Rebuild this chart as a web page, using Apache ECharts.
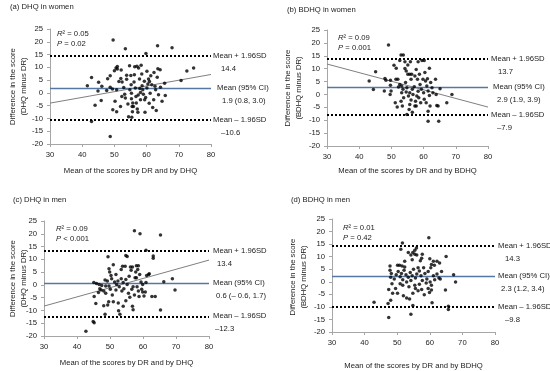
<!DOCTYPE html>
<html><head><meta charset="utf-8">
<script src="https://cdn.jsdelivr.net/npm/echarts@6/dist/echarts.min.js"></script>
<style>html,body{margin:0;padding:0;background:#fff}#c{width:550px;height:371px}</style>
</head><body><div id="c"></div><script>
// ---------- DATA ----------
const panelTitles = ['(a) DHQ in women', '(b) BDHQ in women', '(c) DHQ in men', '(d) BDHQ in men'];
const yNames = ['Difference in the score\n(DHQ minus DR)', 'Difference in the score\n(BDHQ minus DR)', 'Difference in the score\n(DHQ minus DR)', 'Difference in the score\n(BDHQ minus DR)'];
const xNames = ['Mean of the scores by DR and by DHQ', 'Mean of the scores by DR and by BDHQ', 'Mean of the scores by DR and by DHQ', 'Mean of the scores by DR and by BDHQ'];
const r2Text = ['0.05', '0.09', '0.09', '0.01'];
const pText = ['= 0.02', '= 0.001', '< 0.001', '= 0.42'];
// [upper LoA, mean, lower LoA]
const limitsA = [14.4, 1.9, -10.6];
const limitsB = [13.7, 2.9, -7.9];
const limitsC = [13.4, 0.6, -12.3];
const limitsD = [14.3, 2.3, -9.8];
const ciText = ['1.9 (0.8, 3.0)', '2.9 (1.9, 3.9)', '0.6 (– 0.6, 1.7)', '2.3 (1.2, 3.4)'];
const upperText = ['14.4', '13.7', '13.4', '14.3'];
const lowerText = ['–10.6', '–7.9', '–12.3', '–9.8'];
const regA = [[30, -4.0], [80, 7.2]];
const regB = [[30, 11.8], [80, -4.9]];
const regC = [[30, -8.3], [80, 9.7]];
const regD = null;
const xTicks = [30, 40, 50, 60, 70, 80];
const yTicks = [-20, -15, -10, -5, 0, 5, 10, 15, 20, 25];

const aX = [49.6,53.4,63.4,67.9,59.8,41.6,42.9,42.9,44.0,45.1,44.9,45.9,46.1,47.9,47.6,48.7,48.7,48.7,49.4,49.5,50.0,50.5,50.9,50.2,50.7,50.7,51.4,52.0,52.4,52.3,51.9,53.2,53.4,53.8,54.4,54.2,54.7,55.1,55.2,55.3,55.3,55.5,55.6,56.1,56.2,56.3,56.5,56.7,56.8,57.1,57.3,57.5,57.8,57.9,58.1,58.1,58.3,58.5,58.6,58.8,59.0,59.3,59.5,59.7,60.1,60.4,60.6,60.8,61.1,61.3,61.6,61.9,62.3,62.6,62.8,63.0,63.3,63.5,63.7,64.2,64.3,64.8,65.6,65.8,70.7,72.5,74.6,53.8,52.9,50.9,57.0,60.1,55.9,55.4,54.8,52.1,55.7,57.4,59.4,62.2,60.9];
const aY = [20.7,17.3,18.4,17.7,15.4,2.8,6.0,-11.2,-4.8,4.2,0.7,-3.0,2.6,5.5,0.9,6.7,2.2,-17.1,1.5,-6.6,8.7,9.7,10.3,-3.3,-7.4,1.2,4.5,5.6,4.3,-1.4,-5.3,-0.5,-2.0,5.3,-9.3,-4.3,10.6,6.8,3.2,-0.1,-2.3,-5.3,-7.4,4.3,7.1,10.2,1.9,-1.4,-4.0,-6.3,-7.6,9.7,5.4,1.7,0.2,-2.7,10.8,7.4,2.8,1.2,-0.5,4.6,-7.6,-1.8,1.9,3.5,5.4,-4.1,-0.1,6.7,3.2,-5.7,8.0,2.6,1.2,-6.9,6.1,9.4,-0.7,9.1,2.2,-3.3,3.8,-1.0,4.8,8.6,9.7,6.9,2.1,9.3,10.4,8.5,-5.3,-9.5,1.2,9.0,-4.0,-0.8,-2.7,-2.7,4.5];

const bX = [49.1,53.0,53.7,50.8,51.5,45.1,43.1,44.4,47.8,48.0,48.3,49.7,49.7,49.6,49.9,51.4,52.0,51.2,52.6,54.2,54.6,55.1,55.7,55.9,56.3,57.7,58.3,59.5,60.2,61.8,52.6,53.2,53.6,53.8,53.4,53.0,54.4,54.8,55.3,55.7,56.1,56.5,56.7,57.1,57.5,57.7,58.1,58.3,58.5,58.9,59.1,59.3,59.8,60.0,60.2,60.6,61.0,61.2,61.4,61.8,62.0,62.2,62.6,62.9,63.7,63.9,64.1,64.5,65.1,61.4,64.7,61.4,54.8,56.5,67.2,68.8,55.7,54.6,53.2,52.2,54.2,55.1,51.8,55.5,57.3,58.7,60.4,60.8,57.3,56.1,57.9];
const bY = [19.2,15.3,15.3,11.3,10.2,8.8,5.2,1.9,1.3,6.2,5.5,5.5,3.6,0.0,1.3,5.9,5.9,-3.2,13.2,12.7,9.1,7.8,7.8,12.7,7.8,9.7,12.7,13.2,13.2,10.2,3.9,3.3,2.0,-1.3,-4.5,-2.6,4.6,2.6,-0.6,-3.9,5.9,2.0,0.0,3.0,-2.6,-4.5,5.9,1.2,-1.3,3.9,-3.2,2.0,5.9,0.7,-1.9,5.2,3.3,6.1,1.3,-0.4,-4.5,4.6,2.6,0.7,5.9,0.0,-4.3,-4.5,2.2,-10.4,-10.4,-6.5,-7.8,-6.9,-3.2,0.0,0.7,0.9,0.7,2.9,10.1,11.4,-4.9,-5.8,7.2,7.8,8.5,-3.2,-4.5,-2.2,-0.6];

const cX = [57.4,59.1,65.3,60.9,63.1,63.1,49.4,54.8,55.2,49.7,49.9,50.3,50.5,51.0,51.4,51.8,48.5,49.2,49.7,45.1,45.9,46.7,47.5,45.2,45.7,44.9,45.2,42.7,48.1,49.3,48.5,48.1,46.9,48.7,50.7,52.5,53.0,54.0,51.8,52.8,53.4,53.4,53.8,54.6,53.6,54.2,54.8,55.2,55.6,56.0,56.2,56.8,56.8,57.0,57.4,57.6,58.0,58.0,58.6,58.4,58.2,58.6,58.8,59.0,59.4,59.6,59.9,60.3,60.7,60.9,61.1,61.7,61.9,62.7,63.7,65.3,66.3,68.9,69.7,52.6,51.0,49.6,52.0,52.4,54.0,55.8,56.4,57.8,56.6,54.8,57.0,50.1,48.7,47.3,46.5,59.9];
const cY = [21.2,20.0,19.5,13.6,11.3,10.4,11.0,11.5,11.1,6.3,5.0,3.7,2.4,7.9,1.1,4.1,1.9,1.5,-0.4,0.9,0.5,0.2,-0.2,-4.5,-7.3,-14.3,-14.8,-18.1,-8.2,-7.9,-11.5,-2.4,-1.5,-3.3,-4.0,-7.1,-11.5,-8.4,-2.0,-0.7,2.4,6.0,7.3,7.3,-2.4,-1.5,2.1,0.2,-3.3,-4.8,7.0,7.0,-8.4,-9.7,-4.0,2.8,2.8,7.5,7.5,6.0,-0.7,-2.4,-4.5,4.1,1.1,-1.7,-2.8,-4.3,-2.8,0.9,3.7,4.1,4.4,-4.5,-4.5,-9.8,1.2,2.4,-2.0,-10.1,-6.6,-6.6,0.2,1.5,0.9,3.4,5.7,5.0,-1.7,-6.2,-0.7,-1.7,-0.4,-2.0,-3.0,0.2];

const dX = [59.7,51.6,51.1,55.9,55.4,54.8,55.4,56.0,54.2,57.5,57.1,65.0,60.0,61.1,62.2,63.0,60.5,61.4,60.3,47.8,50.1,50.7,51.5,52.3,47.8,48.2,48.0,49.1,49.7,50.3,50.9,51.3,51.7,52.1,52.7,52.9,53.4,54.0,54.2,54.6,55.0,55.6,56.0,56.4,56.8,57.3,57.7,58.1,58.5,59.1,59.5,60.1,60.5,61.1,61.5,62.2,62.8,63.2,63.6,67.3,67.9,64.8,47.4,50.1,48.6,51.9,53.8,52.9,54.8,55.6,56.4,57.5,58.3,59.5,59.9,60.5,51.7,50.9,49.5,53.6,42.9,47.2,48.0,60.7,54.8,65.7,65.7,47.4,54.2,48.4,55.4,56.8,58.9,52.3,53.4,54.6,57.7];
const dY = [17.5,15.4,13.0,13.5,12.6,11.7,11.0,10.7,10.7,9.4,8.4,10.1,9.2,8.2,8.2,7.5,6.9,6.6,5.6,6.3,6.6,6.6,6.3,5.9,4.6,3.3,1.8,1.1,2.8,4.1,2.0,3.3,0.8,4.6,2.8,-0.1,1.8,3.7,0.5,2.4,5.0,1.5,3.1,5.6,4.3,2.4,0.5,5.6,3.3,1.1,4.1,-0.1,-1.4,2.4,0.8,3.1,1.5,1.1,4.1,2.8,-0.1,-3.3,-3.1,-4.6,-4.6,-5.6,-6.9,-6.5,-4.6,-2.7,-3.6,-3.1,-5.2,-2.7,-4.3,-3.3,-1.4,-0.8,-2.7,-2.0,-8.2,-8.7,-7.4,-8.4,-9.4,-9.7,-11.0,-14.2,-12.9,-0.8,-1.4,-1.0,-0.5,8.2,11.7,8.8,11.0];

// ---------- LAYOUT ----------
const grids = [
  {left: 50, top: 29, width: 161, height: 115},
  {left: 327, top: 30, width: 161, height: 116},
  {left: 44, top: 221, width: 165, height: 115},
  {left: 332, top: 219, width: 163, height: 116}
];
const yNameX = [18.5, 293.5, 18.5, 298.5];
const xNameGap = [23, 21, 23, 30];
const titlePos = [[10, 3], [287, 6], [13, 196], [291, 196]];
const statPos = [[57, 29], [338, 33], [56, 224], [343, 223]];
const FONT = 'Arial, "Liberation Sans", sans-serif';
const FS = 7.7;

const pts = [[aX, aY], [bX, bY], [cX, cY], [dX, dY]];
const limits = [limitsA, limitsB, limitsC, limitsD];
const regs = [regA, regB, regC, regD];

const axisCommon = {
  axisLine: {show: true, onZero: false, lineStyle: {color: '#a6a6a6', width: 1}},
  axisTick: {show: true, length: 3, inside: false, lineStyle: {color: '#a6a6a6'}},
  splitLine: {show: false},
  axisLabel: {fontSize: FS, color: '#222', fontFamily: FONT, margin: 7}
};

const option = {
  animation: false,
  backgroundColor: '#fff',
  title: panelTitles.map((t, i) => ({
    text: t, left: titlePos[i][0], top: titlePos[i][1], padding: 0,
    textStyle: {fontSize: FS, fontWeight: 'normal', color: '#222', fontFamily: FONT}
  })),
  grid: grids.map(g => Object.assign({containLabel: false}, g)),
  xAxis: grids.map((g, i) => Object.assign({}, axisCommon, {
    gridIndex: i, type: 'value', min: xTicks[0], max: xTicks[xTicks.length - 1], interval: 10,
    name: xNames[i], nameLocation: 'middle', nameGap: xNameGap[i],
    nameTextStyle: {fontSize: FS, color: '#222', fontFamily: FONT, verticalAlign: 'top'}
  })),
  yAxis: grids.map((g, i) => Object.assign({}, axisCommon, {
    gridIndex: i, type: 'value', min: yTicks[0], max: yTicks[yTicks.length - 1], interval: 5
  })),
  series: []
};

pts.forEach((p, i) => {
  const lim = limits[i];
  const mlData = [
    {yAxis: lim[0], lineStyle: {color: '#000', width: 2, type: [2, 2]}},
    {yAxis: lim[1], lineStyle: {color: '#5478a3', width: 1.4, type: 'solid'}},
    {yAxis: lim[2], lineStyle: {color: '#000', width: 2, type: [2, 2]}}
  ];
  option.series.push({
    type: 'scatter', xAxisIndex: i, yAxisIndex: i,
    data: p[0].map((x, k) => [x, p[1][k]]),
    symbol: 'circle', symbolSize: 3.5,
    itemStyle: {color: '#000'},
    z: 5,
    markLine: {silent: true, symbol: 'none', label: {show: false}, data: mlData, z: 3}
  });
  if (regs[i]) {
    option.series.push({
      type: 'line', xAxisIndex: i, yAxisIndex: i,
      data: regs[i], symbol: 'none', silent: true,
      lineStyle: {color: '#7f7f7f', width: 1}, z: 2
    });
  }
});

const chart = echarts.init(document.getElementById('c'), null, {renderer: 'canvas'});
chart.setOption(option);

// right-hand labels, y-axis titles and stats text
const graphics = [];
const txt = (x, y, text, extra, rot) => graphics.push({
  type: 'text', x: x, y: y, rotation: rot || 0, silent: true,
  style: Object.assign({text: text, fontSize: FS, fontFamily: FONT, fill: '#222', verticalAlign: 'middle', align: 'left'}, extra || {})
});
const offs = [
  {t: [2, 6, 2], v: [10, 11, 10]},
  {t: [3, 5, 3], v: [10, 9, 9]},
  {t: [4, 4, 4], v: [8, 7, 6]},
  {t: [3, 3, 3], v: [10, 6, 10]}
];
pts.forEach((p, i) => {
  const lim = limits[i];
  const names = ['Mean + 1.96SD', 'Mean (95% CI)', 'Mean – 1.96SD'];
  const vals = [upperText[i], ciText[i], lowerText[i]];
  lim.forEach((v, k) => {
    const px = chart.convertToPixel({gridIndex: i}, [xTicks[xTicks.length - 1], v]);
    txt(px[0] + offs[i].t[k], px[1], names[k]);
    txt(px[0] + offs[i].v[k], px[1] + 13, vals[k]);
  });
  const rich = {i: {fontStyle: 'italic', fontSize: FS, fontFamily: FONT, fill: '#222'}};
  txt(statPos[i][0], statPos[i][1] + 5, '{i|R}² = ' + r2Text[i], {rich: rich});
  txt(statPos[i][0], statPos[i][1] + 15, '{i|P} ' + pText[i], {rich: rich});
  const g = grids[i];
  txt(yNameX[i], g.top + g.height / 2, yNames[i], {align: 'center', lineHeight: 11}, Math.PI / 2);
});
chart.setOption({graphic: graphics});
</script></body></html>
